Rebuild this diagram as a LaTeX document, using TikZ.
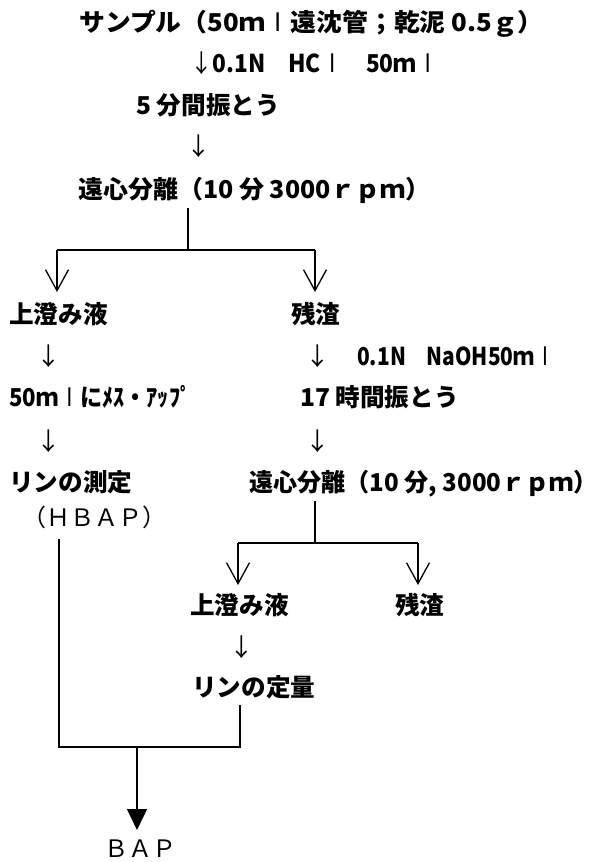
\documentclass[tikz,border=0pt]{standalone}
\usepackage{fontspec}
\setmainfont{Noto Sans CJK JP}
\newfontfamily\dvfont{DejaVu Sans}
\usetikzlibrary{arrows.meta}
\newcommand\dar{{\mdseries ↓}}
\newcommand\Lb{\makebox[1em]{\dvfont\mdseries l}}
\begin{document}
\begin{tikzpicture}[x=1pt,y=-1pt,
  txt/.style={anchor=base west,inner sep=0pt,font=\fontsize{24.6}{25}\selectfont\bfseries},
  thin/.style={anchor=base west,inner sep=0pt,font=\fontsize{24}{24}\selectfont},
  ln/.style={line width=1.3pt},
  vhead/.style={ln,-{Straight Barb[length=21pt,width=23pt]}},
  fhead/.style={ln,-{Triangle[length=21pt,width=20pt]}}]
\fill[white] (0,0) rectangle (596,862);
\useasboundingbox (0,0) rectangle (596,862);
% top chain
\node[txt] (t1) at (79,31) {\scalebox{1.05}[1]{サンプル（50ｍ\Lb 遠沈管；乾泥 0.5ｇ）}};
\node[txt] (t2) at (190,72) {\scalebox{0.92}[1]{\dar 0.1N　HC\Lb　50ｍ\Lb}};
\node[txt] (t3) at (136,114) {5 分間振とう};
\node[txt] (t4) at (186,155) {\dar};
\node[txt] (t5) at (78,198) {\scalebox{1.015}[1]{遠心分離（10 分 3000ｒｐｍ）}};
% branch 1
\coordinate (b1a) at (188,208);
\coordinate (b1b) at (188,250);
\coordinate (b1l) at (57,250);
\coordinate (b1r) at (315,250);
\coordinate (b1le) at (57,292);
\coordinate (b1re) at (315,292);
\draw[ln] (b1a) -- (b1b);
\draw[ln] (b1l) -- (b1r);
\draw[vhead] (b1l) -- (b1le);
\draw[vhead] (b1r) -- (b1re);
% left column
\node[txt] (l1) at (9,323) {上澄み液};
\node[txt] (l2) at (36,365) {\dar};
\node[txt] (l3) at (9,406) {\scalebox{0.9}[1]{50ｍ\Lb にﾒｽ・ｱｯﾌﾟ}};
\node[txt] (l4) at (36,450) {\dar};
\node[txt] (l5) at (9,491) {リンの測定};
\node[thin] (l6) at (22,526) {（ＨＢＡＰ）};
% right column
\node[txt] (r1) at (291,323) {残渣};
\node[txt] (r2) at (305,365) {\dar};
\node[txt] (r2b) at (357,365) {\scalebox{0.85}[1]{0.1N　NaOH50ｍ\Lb}};
\node[txt] (r3) at (300,406) {17 時間振とう};
\node[txt] (r4) at (305,450) {\dar};
\node[txt] (r5) at (249,491) {\scalebox{0.98}[1]{遠心分離（10 分, 3000ｒｐｍ）}};
% branch 2
\coordinate (b2a) at (315,501);
\coordinate (b2b) at (315,543);
\coordinate (b2l) at (238,543);
\coordinate (b2r) at (418,543);
\coordinate (b2le) at (238,585);
\coordinate (b2re) at (418,585);
\draw[ln] (b2a) -- (b2b);
\draw[ln] (b2l) -- (b2r);
\draw[vhead] (b2l) -- (b2le);
\draw[vhead] (b2r) -- (b2re);
\node[txt] (s1) at (190,614) {上澄み液};
\node[txt] (s2) at (395,614) {残渣};
\node[txt] (s3) at (229,656) {\dar};
\node[txt] (s4) at (192,696) {リンの定量};
% merge
\coordinate (ma) at (59,539);
\coordinate (mb) at (59,747);
\coordinate (mc) at (240,705);
\coordinate (md) at (240,747);
\coordinate (me) at (137,747);
\coordinate (mf) at (137,830);
\draw[ln] (ma) -- (mb) -- (md) -- (mc);
\draw[fhead] (me) -- (mf);
\node[thin] (bap) at (104,857) {ＢＡＰ};
\end{tikzpicture}
\end{document}
